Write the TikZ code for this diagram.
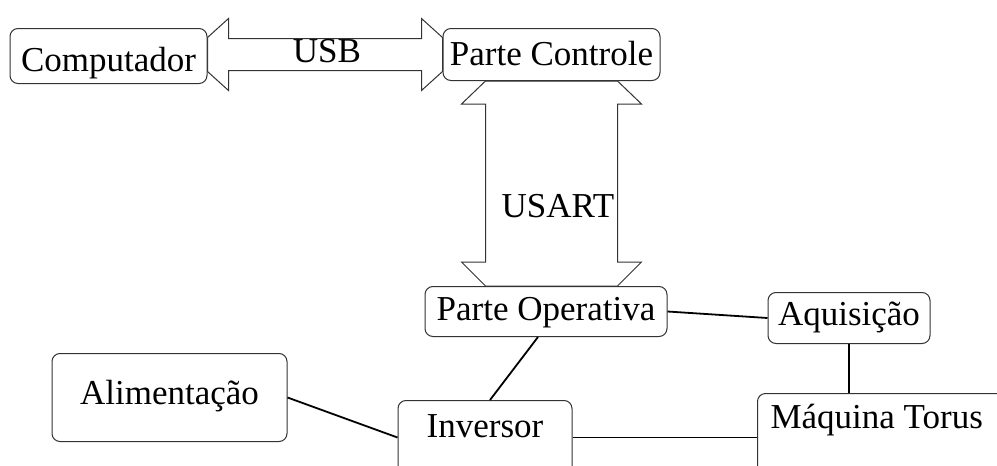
\documentclass[tikz,border=0pt]{standalone}
\usepackage{fontspec}
\setmainfont{Liberation Serif}
\usepackage{tikz}
\usetikzlibrary{calc,backgrounds}
\tikzset{%
  bloco/.style={draw=black!80, fill=white, rounded corners=8pt, line width=1pt, inner sep=0pt, font=\fontsize{35}{42}\selectfont},
  seta/.style={draw=black!80, fill=white, line width=1pt},
  liga/.style={line width=1.8pt},
  rotulo/.style={font=\fontsize{35}{42}\selectfont, inner sep=0pt}
}

\begin{document}
\begin{tikzpicture}[x=1pt,y=-1pt]
	\useasboundingbox (0,0) rectangle (997,466);
	\clip (0,0) rectangle (997,466);
	\node[bloco, minimum width=197pt, text height=43pt, text depth=12pt, anchor=north] (comp) at (108.5,28) {Computador};
	\node[bloco, minimum width=217pt, text height=37pt, text depth=15pt, anchor=north] (ctrl) at (551.5,28) {Parte Controle};
	\node[bloco, minimum width=242pt, text height=34pt, text depth=16pt, anchor=north] (oper) at (546,286) {Parte Operativa};
	\node[bloco, minimum width=162pt, text height=33pt, text depth=18pt, anchor=north] (aqui) at (849,292) {Aquisição};
	\node[bloco, minimum width=235pt, text height=51pt, text depth=37pt, anchor=north] (alim) at (169.5,353) {Alimentação};
	\node[bloco, minimum width=174pt, text height=37pt, text depth=70pt, anchor=north] (inv) at (485,400) {Inversor};
	\node[bloco, inner xsep=13pt, text height=35pt, text depth=70pt, anchor=north west] (maq) at (757,393) {Máquina Torus\hspace*{40pt}};
	\node[rotulo] (usb) at (327,51) {USB};
	\node[rotulo] (usart) at (558,206) {USART};
	\coordinate (usbL) at (comp.east |- ctrl.west);
	\coordinate (usartB) at (ctrl.south |- oper.north);
	\begin{scope}[on background layer]
	\draw[seta] ($(usbL)+(0,-17)$) -- ++(21,-19) -- ++(0,20) -- ($(ctrl.west)+(-21,-16)$) -- ++(0,-20) -- ++(21,19) -- ++(0,34) -- ++(-21,19) -- ++(0,-20) -- ($(usbL)+(21,16)$) -- ++(0,20) -- ++(-21,-19) -- cycle;
	\draw[seta] ($(ctrl.south)+(-66,0)$) -- ++(-24,23) -- ++(24,0) -- ($(usartB)+(-66,-24)$) -- ++(-24,0) -- ++(24,24) -- ++(132,0) -- ++(24,-24) -- ++(-24,0) -- ($(ctrl.south)+(66,23)$) -- ++(24,0) -- ++(-24,-23) -- cycle;
	\end{scope}
	\draw[liga] (oper.east) -- (aqui.west);
	\draw[liga] (aqui.south) -- (aqui.south |- maq.north);
	\draw[liga] ([xshift=-8pt]oper.south) -- ([xshift=5pt]inv.north);
	\draw[liga] (alim.east) -- (inv.base west);
	\draw[liga] (inv.base east) -- (inv.base east -| maq.west);
\end{tikzpicture}
\end{document}
